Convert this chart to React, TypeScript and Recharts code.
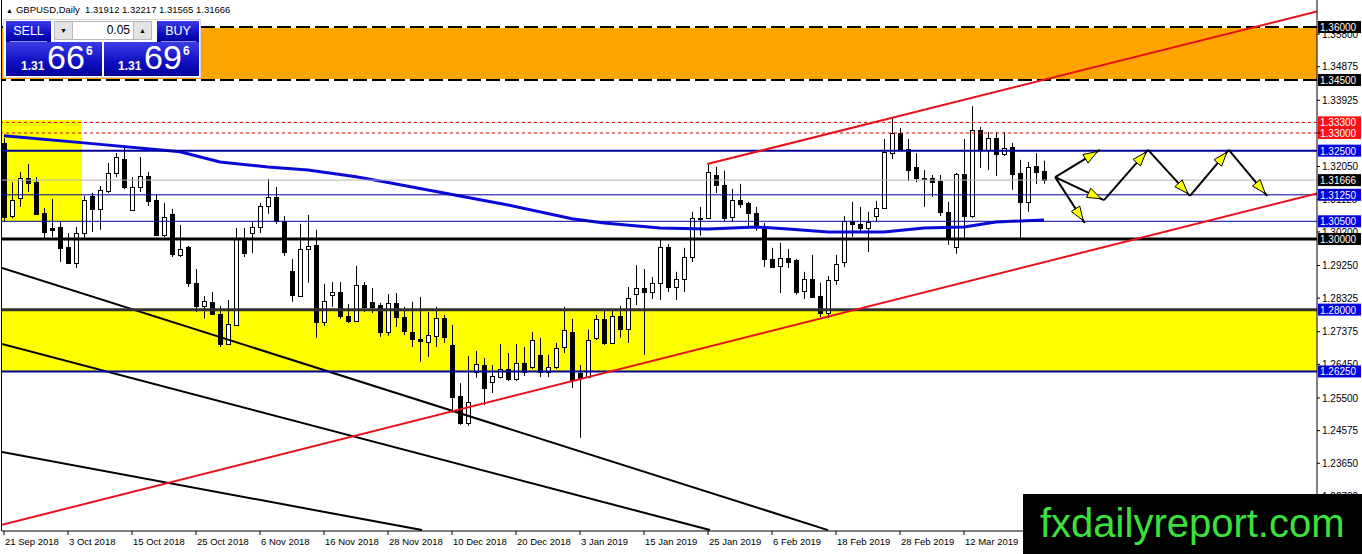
import React from 'react'
import { ComposedChart, Bar, Line, XAxis, YAxis, ReferenceArea, ReferenceLine } from 'recharts'

const FONT = '"Liberation Sans", Arial, sans-serif'

// GBPUSD daily bars, 21 Sep 2018 .. 26 Mar 2019 (bar index 0..130)
const opens = [
  1.3272, 1.3065, 1.3116, 1.3173, 1.3161, 1.3074, 1.3031, 1.3034, 1.2977, 1.2932,
  1.3017, 1.3122, 1.3085, 1.3136, 1.3187, 1.3226, 1.3082, 1.3147, 1.3178, 1.3110,
  1.3011, 1.3071, 1.2954, 1.2977, 1.2876, 1.2810, 1.2822, 1.2788, 1.2703, 1.2757,
  1.3003, 1.3017, 1.3034, 1.3093, 1.3119, 1.3051, 1.2909, 1.2839, 1.2972, 1.2983,
  1.2765, 1.2842, 1.2850, 1.2782, 1.2768, 1.2870, 1.2822, 1.2813, 1.2737, 1.2819,
  1.2779, 1.2737, 1.2717, 1.2709, 1.2726, 1.2776, 1.2700, 1.2556, 1.2479, 1.2624,
  1.2643, 1.2595, 1.2609, 1.2632, 1.2604, 1.2649, 1.2638, 1.2672, 1.2624, 1.2638,
  1.2694, 1.2737, 1.2620, 1.2609, 1.2720, 1.2774, 1.2706, 1.2782, 1.2745, 1.2845,
  1.2861, 1.2850, 1.2875, 1.2977, 1.2864, 1.2887, 1.2949, 1.3060, 1.3060, 1.3181,
  1.3153, 1.3062, 1.3110, 1.3102, 1.3074, 1.3034, 1.2943, 1.2924, 1.2946, 1.2940,
  1.2853, 1.2887, 1.2839, 1.2790, 1.2884, 1.2935, 1.3051, 1.3043, 1.3031, 1.3065,
  1.3088, 1.3243, 1.3300, 1.3255, 1.3204, 1.3173, 1.3173, 1.3164, 1.3077, 1.2977,
  1.3184, 1.3065, 1.3308, 1.3252, 1.3286, 1.3241, 1.3260, 1.3187, 1.3105, 1.3207,
  1.31912,
]
const highs = [
  1.3285, 1.3161, 1.3190, 1.3212, 1.3175, 1.3088, 1.3113, 1.3048, 1.3017, 1.3034,
  1.3122, 1.3130, 1.3150, 1.3215, 1.3243, 1.3258, 1.3175, 1.3232, 1.3190, 1.3125,
  1.3102, 1.3085, 1.3040, 1.2980, 1.2915, 1.2838, 1.2850, 1.2810, 1.2827, 1.3031,
  1.3031, 1.3048, 1.3102, 1.3170, 1.3147, 1.3065, 1.2943, 1.3043, 1.3068, 1.3026,
  1.2873, 1.2878, 1.2878, 1.2816, 1.2924, 1.2878, 1.2861, 1.2819, 1.2844, 1.2847,
  1.2808, 1.2822, 1.2836, 1.2793, 1.2808, 1.2785, 1.2757, 1.2592, 1.2669, 1.2683,
  1.2663, 1.2643, 1.2703, 1.2677, 1.2703, 1.2694, 1.2737, 1.2720, 1.2672, 1.2706,
  1.2808, 1.2774, 1.2643, 1.2743, 1.2785, 1.2799, 1.2799, 1.2810, 1.2864, 1.2926,
  1.2915, 1.2892, 1.2997, 1.2986, 1.2907, 1.2975, 1.3077, 1.3091, 1.3212, 1.3204,
  1.3193, 1.3142, 1.3156, 1.3105, 1.3091, 1.3045, 1.2975, 1.2989, 1.2972, 1.2943,
  1.2907, 1.2955, 1.2876, 1.2895, 1.2955, 1.3065, 1.3105, 1.3091, 1.3077, 1.3108,
  1.3283, 1.3342, 1.3314, 1.3283, 1.3243, 1.3195, 1.3181, 1.3181, 1.3105, 1.3187,
  1.3283, 1.3376, 1.3317, 1.3303, 1.3303, 1.3303, 1.3272, 1.3224, 1.3218, 1.3243,
  1.32217,
]
const lows = [
  1.3050, 1.3058, 1.3091, 1.3133, 1.3068, 1.3003, 1.3006, 1.2935, 1.2929, 1.2918,
  1.3003, 1.3020, 1.3026, 1.3130, 1.3175, 1.3141, 1.3079, 1.3133, 1.3093, 1.3008,
  1.3006, 1.2949, 1.2949, 1.2864, 1.2793, 1.2775, 1.2785, 1.2694, 1.2700, 1.2755,
  1.2949, 1.2960, 1.3017, 1.3071, 1.3043, 1.2952, 1.2822, 1.2836, 1.2876, 1.2720,
  1.2754, 1.2808, 1.2774, 1.2762, 1.2765, 1.2793, 1.2790, 1.2723, 1.2726, 1.2751,
  1.2728, 1.2694, 1.2652, 1.2666, 1.2694, 1.2706, 1.2508, 1.2474, 1.2471, 1.2607,
  1.2530, 1.2564, 1.2605, 1.2598, 1.2598, 1.2612, 1.2632, 1.2609, 1.2609, 1.2632,
  1.2677, 1.2578, 1.2437, 1.2606, 1.2714, 1.2700, 1.2703, 1.2720, 1.2706, 1.2813,
  1.2672, 1.2830, 1.2827, 1.2850, 1.2827, 1.2850, 1.2935, 1.3009, 1.3057, 1.3130,
  1.3051, 1.3048, 1.3088, 1.3034, 1.3023, 1.2921, 1.2918, 1.2847, 1.2918, 1.2842,
  1.2830, 1.2833, 1.2779, 1.2776, 1.2870, 1.2920, 1.3006, 1.3020, 1.2963, 1.3048,
  1.3085, 1.3226, 1.3249, 1.3164, 1.3161, 1.3091, 1.3119, 1.3065, 1.2983, 1.2958,
  1.3000, 1.3060, 1.3201, 1.3195, 1.3178, 1.3235, 1.3139, 1.3000, 1.3077, 1.3156,
  1.31565,
]
const closes = [
  1.3062, 1.3110, 1.3173, 1.3159, 1.3071, 1.3020, 1.3026, 1.2975, 1.2932, 1.3017,
  1.3110, 1.3085, 1.3139, 1.3187, 1.3232, 1.3147, 1.3147, 1.3178, 1.3108, 1.3011,
  1.3062, 1.2958, 1.2971, 1.2876, 1.2810, 1.2824, 1.2788, 1.2703, 1.2760, 1.3003,
  1.2960, 1.3034, 1.3093, 1.3119, 1.3051, 1.2963, 1.2842, 1.2972, 1.2980, 1.2765,
  1.2824, 1.2850, 1.2782, 1.2768, 1.2870, 1.2808, 1.2808, 1.2737, 1.2819, 1.2779,
  1.2740, 1.2717, 1.2711, 1.2728, 1.2776, 1.2723, 1.2553, 1.2479, 1.2539, 1.2646,
  1.2578, 1.2612, 1.2632, 1.2604, 1.2649, 1.2624, 1.2714, 1.2624, 1.2638, 1.2692,
  1.2743, 1.2601, 1.2606, 1.2714, 1.2774, 1.2706, 1.2782, 1.2745, 1.2833, 1.2861,
  1.2850, 1.2875, 1.2977, 1.2864, 1.2887, 1.2949, 1.3060, 1.3057, 1.3190, 1.3153,
  1.3060, 1.3110, 1.3099, 1.3074, 1.3034, 1.2943, 1.2921, 1.2946, 1.2935, 1.2850,
  1.2887, 1.2836, 1.2790, 1.2884, 1.2930, 1.3051, 1.3043, 1.3031, 1.3048, 1.3088,
  1.3246, 1.3300, 1.3252, 1.3195, 1.3173, 1.3170, 1.3161, 1.3077, 1.3006, 1.3184,
  1.3065, 1.3308, 1.3252, 1.3286, 1.3241, 1.3258, 1.3184, 1.3105, 1.3204, 1.3190,
  1.31666,
]

// moving average, read at some bars
const maBars = [0, 10, 22, 27, 33, 38, 44, 47, 55, 63, 71, 75, 82, 88, 94, 98, 103, 110, 115, 120, 124, 127, 130]
const maValues = [
  1.3292, 1.3272, 1.3247, 1.3218, 1.3204, 1.3195, 1.3176, 1.3164, 1.3130, 1.3096, 1.3057, 1.3045,
  1.3031, 1.3028, 1.3034, 1.3028, 1.3020, 1.3020, 1.3031, 1.3034, 1.3048, 1.3051, 1.3054,
]

// x axis labels (every 8 bars)
const dateTickBars = [0, 8, 16, 24, 32, 40, 48, 56, 64, 72, 80, 88, 96, 104, 112, 120]
const dateLabels = [
  '21 Sep 2018', '3 Oct 2018', '15 Oct 2018', '25 Oct 2018', '6 Nov 2018', '16 Nov 2018',
  '28 Nov 2018', '10 Dec 2018', '20 Dec 2018', '3 Jan 2019', '15 Jan 2019', '25 Jan 2019',
  '6 Feb 2019', '18 Feb 2019', '28 Feb 2019', '12 Mar 2019',
]

const priceTicks = [
  1.358, 1.34875, 1.33925, 1.33, 1.3205, 1.31125, 1.302, 1.2925, 1.28325,
  1.27375, 1.2645, 1.255, 1.24575, 1.2365, 1.227,
]

// zones and levels
const orangeZone = [1.345, 1.36]
const yellowZone = [1.2625, 1.28]
const yellowBoxBars = [-0.25, 9.75]
const yellowBoxPrices = [1.305, 1.3337]
const redDashedLevels = [1.333, 1.33]
const bidPrice = 1.31666

const badgeLevels = [1.36, 1.345, 1.333, 1.33, 1.325, 1.31666, 1.3125, 1.305, 1.3, 1.28, 1.2625]
const badgeColors = ['#000', '#000', '#ff1010', '#ff1010', '#0000e0', '#000', '#0000e0', '#0000e0', '#000', '#0000e0', '#0000e0']

// trend lines: [bar, price] pairs
const redChannel = [
  [[-0.25, 1.2191], [164.125, 1.3129]],
  [[87.9, 1.3212], [164.125, 1.3644]],
]
const blackTrends = [
  [[-0.25, 1.2918], [103, 1.2176]],
  [[-0.25, 1.2703], [88.25, 1.2176]],
  [[-0.25, 1.2397], [52.25, 1.2176]],
]

// scenario arrows
const arrowOrigin = [131.4, 1.3175]
const fanTargets = [[137.0, 1.3252], [137.5, 1.3110], [135.1, 1.3045]]
const zigzagBars = [137.5, 143.0, 148.25, 153.1, 157.9]
const zigzagPrices = [1.3110, 1.3252, 1.3122, 1.3252, 1.3122]

const maByBar = new Map(maBars.map((b, k) => [b, maValues[k]]))
const chartData = opens.map((o, i) => ({
  i,
  o,
  h: highs[i],
  l: lows[i],
  c: closes[i],
  ma: maByBar.has(i) ? maByBar.get(i) : null,
}))

const arrowSegments: number[][][] = [
  ...fanTargets.map(t => [arrowOrigin, t]),
  ...zigzagBars.slice(1).map((b, k) => [[zigzagBars[k], zigzagPrices[k]], [b, zigzagPrices[k + 1]]]),
]

const renderCandle = (props: any) => {
  const { x, y, width, height, payload } = props
  const { o, h, l, c } = payload
  const top = Math.min(y, y + height)
  const bottom = Math.max(y, y + height)
  const span = h - l
  const py = (p: number) => (span === 0 ? top : top + ((h - p) / span) * (bottom - top))
  const cx = Math.round(x + width / 2) + 0.5
  const bTop = Math.round(py(Math.max(o, c))) + 0.5
  const bBot = Math.max(Math.round(py(Math.min(o, c))) + 0.5, bTop + 1)
  return (
    <g>
      <line x1={cx} x2={cx} y1={top} y2={bottom} stroke="#000" strokeWidth={1} />
      <rect x={cx - 2} y={bTop} width={4} height={bBot - bTop} fill={c >= o ? '#fff' : '#000'} stroke="#000" strokeWidth={1} />
    </g>
  )
}

const ArrowShape = (props: any) => {
  const { x1, y1, x2, y2 } = props
  const dx = x2 - x1
  const dy = y2 - y1
  const len = Math.hypot(dx, dy) || 1
  const ux = dx / len
  const uy = dy / len
  const tx = x2 - ux * 3
  const ty = y2 - uy * 3
  const bx = tx - ux * 14
  const by = ty - uy * 14
  const nx = -uy * 5
  const ny = ux * 5
  return (
    <g>
      <line x1={x1} y1={y1} x2={x2} y2={y2} stroke="#000" strokeWidth={2} />
      <polygon points={`${tx},${ty} ${bx + nx},${by + ny} ${bx - nx},${by - ny}`} fill="#ffff00" stroke="#000" strokeWidth={1} />
    </g>
  )
}

// price scale text, drawn as reference labels so the badges can sit on top
const PriceLabel = (props: any) => {
  const { viewBox, text } = props
  if (!viewBox) return null
  return (
    <text x={viewBox.x + viewBox.width + 5} y={viewBox.y + 3.6} fill="#000" fontSize={10} fontFamily={FONT}>{text}</text>
  )
}

const Badge = (props: any) => {
  const { viewBox, text, bg } = props
  if (!viewBox) return null
  const x = viewBox.x + viewBox.width + 1
  const y = viewBox.y
  return (
    <g>
      <rect x={x} y={y - 6} width={43} height={12} fill={bg} />
      <text x={x + 2} y={y + 4} fill="#fff" fontSize={10} fontFamily={FONT}>{text}</text>
    </g>
  )
}

const DateTick = (props: any) => {
  const { x, y, payload } = props
  const k = dateTickBars.indexOf(payload.value)
  return (
    <text x={x + 1} y={y + 8} fontSize={9.5} fontFamily={FONT} fill="#000" textAnchor="start">
      {k >= 0 ? dateLabels[k] : ''}
    </text>
  )
}

const blueBox = 'linear-gradient(#3c3ce6, #1212c4 55%, #00009c)'

export default function App() {
  return (
    <div style={{ position: 'absolute', left: 0, top: 0, width: 1362, height: 554, background: '#fff', overflow: 'hidden', fontFamily: FONT }}>
      <ComposedChart width={1362} height={554} data={chartData} margin={{ top: 0, right: 0, bottom: 0, left: 2 }}>
        <XAxis
          dataKey="i"
          type="number"
          domain={[-0.25, 164.125]}
          allowDataOverflow
          ticks={dateTickBars}
          interval={0}
          tick={<DateTick />}
          tickSize={4}
          height={23}
          axisLine={{ stroke: '#000' }}
          tickLine={{ stroke: '#000' }}
        />
        <YAxis
          orientation="right"
          type="number"
          domain={[1.21734, 1.36764]}
          allowDataOverflow
          ticks={priceTicks}
          interval={0}
          width={45}
          tick={() => <g />}
          tickSize={3}
          axisLine={{ stroke: '#000' }}
          tickLine={{ stroke: '#000' }}
        />

        <ReferenceArea y1={orangeZone[0]} y2={orangeZone[1]} fill="#ffa500" fillOpacity={1} ifOverflow="hidden" />
        <ReferenceArea y1={yellowZone[0]} y2={yellowZone[1]} fill="#ffff00" fillOpacity={1} ifOverflow="hidden" />
        <ReferenceArea x1={yellowBoxBars[0]} x2={yellowBoxBars[1]} y1={yellowBoxPrices[0]} y2={yellowBoxPrices[1]} fill="#ffff00" fillOpacity={1} ifOverflow="hidden" />

        {blackTrends.map((s, k) => (
          <ReferenceLine key={`bt${k}`} segment={[{ x: s[0][0], y: s[0][1] }, { x: s[1][0], y: s[1][1] }]} stroke="#000" strokeWidth={2} ifOverflow="hidden" />
        ))}

        <Bar dataKey={(d: any) => [d.l, d.h]} shape={renderCandle} barSize={5} isAnimationActive={false} />
        <Line dataKey="ma" type="linear" connectNulls dot={false} activeDot={false} stroke="#0a0ad8" strokeWidth={3} isAnimationActive={false} />

        {orangeZone.map((p, k) => (
          <ReferenceLine key={`ow${k}`} y={p} stroke="#fff" strokeWidth={2} />
        ))}
        {orangeZone.map((p, k) => (
          <ReferenceLine key={`od${k}`} y={p} stroke="#000" strokeWidth={2} strokeDasharray="14 5" />
        ))}
        {redDashedLevels.map((p, k) => (
          <ReferenceLine key={`rd${k}`} y={p} stroke="#e00000" strokeWidth={1} strokeDasharray="3 3" />
        ))}
        <ReferenceLine y={bidPrice} stroke="#b4b4b4" strokeWidth={1} />
        <ReferenceLine y={1.325} stroke="#00009a" strokeWidth={2} />
        <ReferenceLine y={1.3125} stroke="#0000a0" strokeWidth={1} />
        <ReferenceLine y={1.305} stroke="#0000a0" strokeWidth={1} />
        <ReferenceLine y={1.3} stroke="#000" strokeWidth={3} />
        <ReferenceLine y={1.28} stroke="#303030" strokeWidth={3} />
        <ReferenceLine y={1.2625} stroke="#00009a" strokeWidth={2} />

        {redChannel.map((s, k) => (
          <ReferenceLine key={`rc${k}`} segment={[{ x: s[0][0], y: s[0][1] }, { x: s[1][0], y: s[1][1] }]} stroke="#e8101a" strokeWidth={2} ifOverflow="hidden" />
        ))}
        {arrowSegments.map((s, k) => (
          <ReferenceLine key={`ar${k}`} segment={[{ x: s[0][0], y: s[0][1] }, { x: s[1][0], y: s[1][1] }]} shape={ArrowShape} />
        ))}

        {priceTicks.map((p, k) => (
          <ReferenceLine key={`pt${k}`} y={p} stroke="none" label={<PriceLabel text={p.toFixed(5)} />} />
        ))}
        {badgeLevels.map((p, k) => (
          <ReferenceLine key={`bd${k}`} y={p} stroke="none" label={<Badge text={p.toFixed(5)} bg={badgeColors[k]} />} />
        ))}
      </ComposedChart>

      {/* left border of the chart window */}
      <div style={{ position: 'absolute', left: 1, top: 0, width: 1, height: 531, background: '#000' }} />

      {/* symbol header */}
      <div style={{ position: 'absolute', left: 6, top: 4, fontSize: 9.5, color: '#000', whiteSpace: 'pre', lineHeight: '12px' }}>
        <span style={{ fontSize: 7, marginRight: 3 }}>▲</span>GBPUSD,Daily  1.31912 1.32217 1.31565 1.31666
      </div>

      {/* one-click trading panel */}
      <div style={{ position: 'absolute', left: 3, top: 19, width: 198, height: 59, background: '#fff', border: '1px solid #d8d8d8', boxSizing: 'border-box' }} />
      <div style={{ position: 'absolute', left: 6, top: 21, width: 45, height: 21, background: blueBox, color: '#fff', fontSize: 12.5, textAlign: 'center', lineHeight: '20px' }}>SELL</div>
      <div style={{ position: 'absolute', left: 157, top: 21, width: 42, height: 21, background: blueBox, color: '#fff', fontSize: 12.5, textAlign: 'center', lineHeight: '20px' }}>BUY</div>
      <div style={{ position: 'absolute', left: 54, top: 21, width: 19, height: 19, background: '#e4e4e4', border: '1px solid #b8b8b8', boxSizing: 'border-box', fontSize: 7, textAlign: 'center', lineHeight: '18px' }}>▼</div>
      <div style={{ position: 'absolute', left: 73, top: 21, width: 60, height: 19, background: '#fff', borderTop: '1px solid #b8b8b8', borderBottom: '1px solid #b8b8b8', boxSizing: 'border-box', fontSize: 12, textAlign: 'right', paddingRight: 3, lineHeight: '17px' }}>0.05</div>
      <div style={{ position: 'absolute', left: 133, top: 21, width: 19, height: 19, background: '#e4e4e4', border: '1px solid #b8b8b8', boxSizing: 'border-box', fontSize: 7, textAlign: 'center', lineHeight: '18px' }}>▲</div>
      <div style={{ position: 'absolute', left: 6, top: 42, width: 96, height: 34, background: blueBox }} />
      <div style={{ position: 'absolute', left: 104, top: 42, width: 95, height: 34, background: blueBox }} />
      <div style={{ position: 'absolute', left: 10, top: 41, width: 37, height: 1, background: '#8a8af0' }} />
      <div style={{ position: 'absolute', left: 161, top: 41, width: 35, height: 1, background: '#8a8af0' }} />
      <div style={{ position: 'absolute', left: 21, top: 60, fontSize: 12, lineHeight: '12px', color: '#fff', fontWeight: 'bold' }}>1.31</div>
      <div style={{ position: 'absolute', left: 47, top: 40, fontSize: 34, lineHeight: '34px', color: '#fff' }}>66</div>
      <div style={{ position: 'absolute', left: 86, top: 45, fontSize: 12, lineHeight: '12px', color: '#fff', fontWeight: 'bold' }}>6</div>
      <div style={{ position: 'absolute', left: 118, top: 60, fontSize: 12, lineHeight: '12px', color: '#fff', fontWeight: 'bold' }}>1.31</div>
      <div style={{ position: 'absolute', left: 144, top: 40, fontSize: 34, lineHeight: '34px', color: '#fff' }}>69</div>
      <div style={{ position: 'absolute', left: 183, top: 45, fontSize: 12, lineHeight: '12px', color: '#fff', fontWeight: 'bold' }}>6</div>

      {/* watermark */}
      <div style={{ position: 'absolute', left: 1023, top: 494, width: 339, height: 60, background: '#000' }}>
        <div style={{ position: 'absolute', left: 17, top: 9, fontSize: 40, lineHeight: '40px', color: '#3ce03c', whiteSpace: 'nowrap' }}>fxdailyreport.com</div>
      </div>
    </div>
  )
}
